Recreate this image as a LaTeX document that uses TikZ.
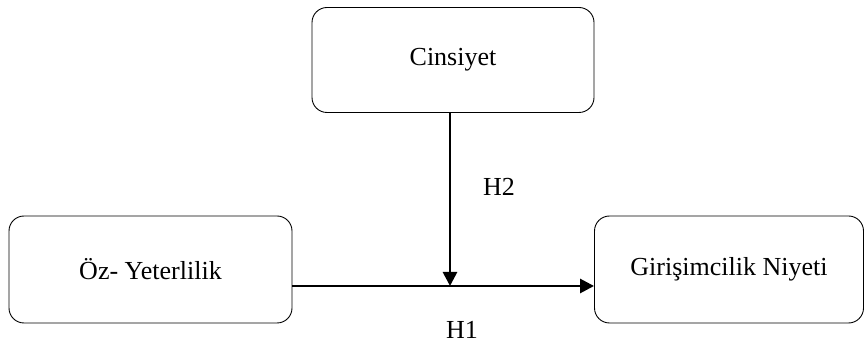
\documentclass[tikz,border=0pt]{standalone}
\usepackage{fontspec}
\setmainfont{Liberation Serif}
\usetikzlibrary{arrows.meta}
\begin{document}
\begin{tikzpicture}[x=1pt,y=-1pt,
  rbox/.style={draw, rounded corners=15pt, line width=0.9pt, inner sep=0pt, font=\fontsize{26}{31}\selectfont},
  arr/.style={line width=2.7pt, -{Triangle[length=14pt,width=14pt]}},
  lbl/.style={font=\fontsize{26}{31}\selectfont}]
\useasboundingbox (0,0) rectangle (865,344);
\node[rbox, minimum width=282pt, minimum height=105pt] (c) at (453,60) {Cinsiyet};
\node[rbox, minimum width=283pt, minimum height=107pt] (o) at (150.5,269.5) {Öz- Yeterlilik};
\node[rbox, minimum width=269pt, minimum height=107pt] (g) at (729,269.5) {Girişimcilik Niyeti};
\coordinate (m) at (450,286);
\draw[arr] (o.east |- m) -- (g.west |- m);
\draw[arr] (m |- c.south) -- (m);
\node[lbl] (h2) at (499,187) {H2};
\node[lbl] (h1) at (462,330) {H1};
\end{tikzpicture}
\end{document}
